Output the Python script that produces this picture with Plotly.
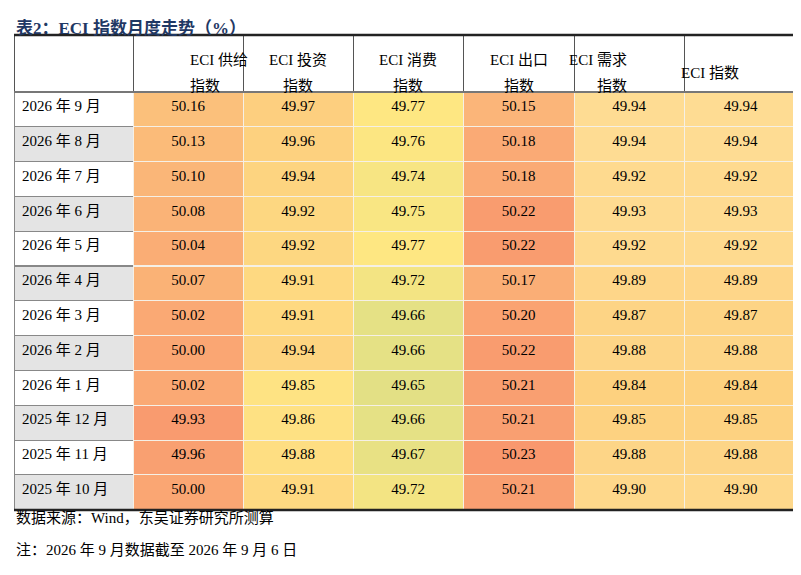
import plotly.graph_objects as go

months = ["2026 年 9 月", "2026 年 8 月", "2026 年 7 月", "2026 年 6 月", "2026 年 5 月",
          "2026 年 4 月", "2026 年 3 月", "2026 年 2 月", "2026 年 1 月", "2025 年 12 月",
          "2025 年 11 月", "2025 年 10 月"]
headers = ["", "ECI 供给<br>指数", "ECI 投资<br>指数", "ECI 消费<br>指数",
           "ECI 出口<br>指数", "ECI 需求<br>指数", "ECI 指数"]
supply = [50.16, 50.13, 50.10, 50.08, 50.04, 50.07, 50.02, 50.00, 50.02, 49.93, 49.96, 50.00]
invest = [49.97, 49.96, 49.94, 49.92, 49.92, 49.91, 49.91, 49.94, 49.85, 49.86, 49.88, 49.91]
consume = [49.77, 49.76, 49.74, 49.75, 49.77, 49.72, 49.66, 49.66, 49.65, 49.66, 49.67, 49.72]
export = [50.15, 50.18, 50.18, 50.22, 50.22, 50.17, 50.20, 50.22, 50.21, 50.21, 50.23, 50.21]
demand = [49.94, 49.94, 49.92, 49.93, 49.92, 49.89, 49.87, 49.88, 49.84, 49.85, 49.88, 49.90]
eci = [49.94, 49.94, 49.92, 49.93, 49.92, 49.89, 49.87, 49.88, 49.84, 49.85, 49.88, 49.90]

W, H = 801, 575
OFF = 8  # page body margin


def px(x):
    return (x - OFF) / W


def py(y):
    return 1 - (y - OFF) / H


def hex_rgb(h):
    return tuple(int(h[i:i + 2], 16) for i in (1, 3, 5))


def shade(vals, c_lo, c_hi):
    lo, hi = min(vals), max(vals)
    a, b = hex_rgb(c_lo), hex_rgb(c_hi)
    out = []
    for v in vals:
        t = (v - lo) / (hi - lo) if hi > lo else 0
        out.append("rgb(%d,%d,%d)" % tuple(round(a[i] + (b[i] - a[i]) * t) for i in range(3)))
    return out


fills = [
    ["white" if i % 2 == 0 else "#e4e4e4" for i in range(len(months))],
    shade(supply, "#f99b6f", "#fbc07b"),
    shade(invest, "#fee383", "#fdcf7f"),
    shade(consume, "#e3e085", "#fee782"),
    shade(export, "#fbb579", "#f9986e"),
    shade(demand, "#fdd17f", "#fedc93"),
    shade(eci, "#fdd17f", "#fedc93"),
]

cols = [months] + [["%.2f" % v for v in c] for c in (supply, invest, consume, export, demand, eci)]
widths = [119, 110, 110, 110, 111, 110, 113]
font = "Liberation Serif, Noto Sans CJK SC"
x_left, x_right = 14, 797

fig = go.Figure(go.Table(
    columnwidth=widths,
    domain=dict(x=[px(x_left), px(x_right)], y=[0, py(35)]),
    header=dict(values=[""] * len(headers), height=57, fill_color="white",
                line=dict(color="#555555", width=1)),
    cells=dict(values=cols, height=34.8, fill_color=fills,
               line=dict(color=["#888888"] + ["#f5f0e6"] * 6, width=1),
               font=dict(family=font, size=15, color="black"),
               align=["left"] + ["center"] * 6),
))

# header labels, centred on each column
edge = x_left
for w, label in zip(widths, headers):
    cx = edge + w / 2
    edge += w
    if not label:
        continue
    for k, line in enumerate(label.split("<br>")):
        yy = 63 if "<br>" not in label else (50 + 26 * k)
        fig.add_annotation(text=line, x=px(cx), y=py(yy), xref="paper", yref="paper",
                           showarrow=False, font=dict(family=font, size=15, color="black"))

for y, w, c in [(35, 2.5, "#222"), (92, 2, "#777"), (510, 2.5, "#222")]:
    fig.add_shape(type="line", xref="paper", yref="paper", x0=px(x_left), x1=px(x_right),
                  y0=py(y), y1=py(y), line=dict(color=c, width=w))

fig.add_annotation(text="<b>表2：ECI 指数月度走势（%）</b>", x=px(14), y=py(17),
                   xref="paper", yref="paper", xanchor="left", showarrow=False,
                   font=dict(family=font, size=17, color="#1f3864"))
fig.add_annotation(text="数据来源：Wind，东吴证券研究所测算", x=px(14), y=py(528),
                   xref="paper", yref="paper", xanchor="left", showarrow=False,
                   font=dict(family=font, size=15, color="black"))
fig.add_annotation(text="注：2026 年 9 月数据截至 2026 年 9 月 6 日", x=px(14), y=py(560),
                   xref="paper", yref="paper", xanchor="left", showarrow=False,
                   font=dict(family=font, size=15, color="black"))

fig.update_layout(width=W, height=H, margin=dict(l=0, r=0, t=0, b=0),
                  paper_bgcolor="white", plot_bgcolor="white")
fig.write_html("out.html")
